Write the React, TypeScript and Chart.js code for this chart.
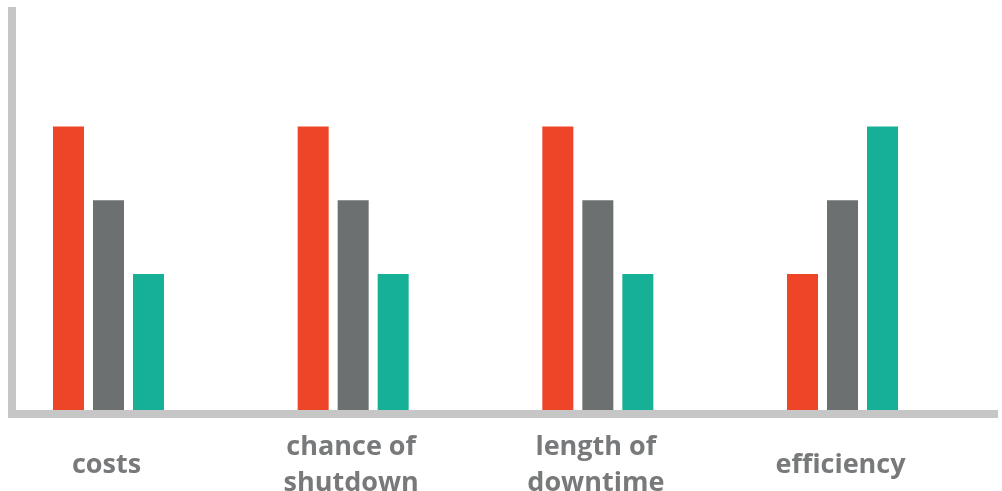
import React, { useEffect, useRef } from "react";
import { Chart, registerables } from "chart.js";

Chart.register(...registerables);

// Category labels (multi-line where the label wraps)
const categories: (string | string[])[] = [
  "costs",
  ["chance of", "shutdown"],
  ["length of", "downtime"],
  "efficiency",
];

// Series values on a 0–100 rating scale
const seriesRed = [100, 100, 100, 48];
const seriesGray = [74, 74, 74, 74];
const seriesTeal = [48, 48, 48, 100];

const RED = "#EE4427";
const GRAY = "#6C7070";
const TEAL = "#16B097";
const AXIS = "#C6C6C6";
const TEXT = "#77797B";

const toPoints = (values: number[]) => values.map((y, x) => ({ x, y }));

export default function App() {
  const canvasRef = useRef<HTMLCanvasElement | null>(null);

  useEffect(() => {
    const canvas = canvasRef.current;
    if (!canvas) return;
    const chart = new Chart(canvas, {
      type: "bar",
      data: {
        datasets: [
          { label: "Series 1", data: toPoints(seriesRed), backgroundColor: RED },
          { label: "Series 2", data: toPoints(seriesGray), backgroundColor: GRAY },
          { label: "Series 3", data: toPoints(seriesTeal), backgroundColor: TEAL },
        ],
      },
      options: {
        animation: false,
        responsive: false,
        maintainAspectRatio: false,
        events: [],
        layout: { padding: { left: 12, top: 11, right: 4.5, bottom: 0 } },
        plugins: {
          legend: { display: false },
          tooltip: { enabled: false },
        },
        datasets: {
          bar: { categoryPercentage: 0.4905, barPercentage: 0.775 },
        },
        scales: {
          x: {
            type: "linear",
            position: "bottom",
            offset: false,
            min: -0.3944,
            max: 3.6335,
            grid: { display: false, drawTicks: false, offset: false },
            border: { display: true, color: AXIS, width: 8 },
            afterBuildTicks: (scale: any) => {
              scale.ticks = categories.map((_, i) => ({ value: i }));
            },
            afterFit: (scale: any) => {
              scale.height = 77;
            },
            ticks: {
              autoSkip: false,
              maxRotation: 0,
              minRotation: 0,
              crossAlign: "center",
              padding: 33,
              labelOffset: -2,
              color: TEXT,
              font: { family: "'Open Sans'", weight: "bold", size: 27, lineHeight: "36px" },
              callback: (value: any) => categories[Number(value)] ?? "",
            },
          },
          y: {
            min: -1.41,
            max: 140.8,
            grid: { display: false, drawTicks: false },
            border: { display: true, color: AXIS, width: 8 },
            ticks: { display: false },
          },
        },
      },
    });
    return () => chart.destroy();
  }, []);

  return (
    <div style={{ position: "fixed", left: 0, top: 0, width: 1002, height: 491, background: "#fff" }}>
      <canvas ref={canvasRef} width={1002} height={491} style={{ width: 1002, height: 491, display: "block" }} />
    </div>
  );
}
